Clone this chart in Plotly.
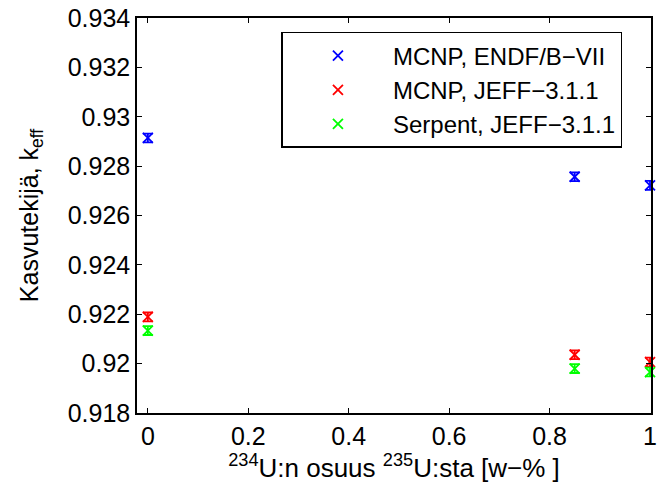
import plotly.graph_objects as go

x_vals = [0.0, 0.85, 1.0]
mcnp_endf = [0.92914, 0.92757, 0.92722]
mcnp_jeff = [0.92189, 0.92036, 0.92006]
serpent_jeff = [0.92134, 0.91980, 0.91966]
err = [0.00018, 0.00018, 0.00018]

names = ["MCNP, ENDF/B\u2212VII", "MCNP, JEFF\u22123.1.1", "Serpent, JEFF\u22123.1.1"]
colors = ["#0000ff", "#ff0000", "#00ff00"]
series = [mcnp_endf, mcnp_jeff, serpent_jeff]

y_ticks = [0.918, 0.920, 0.922, 0.924, 0.926, 0.928, 0.930, 0.932, 0.934]
y_labels = ["0.918", "0.92", "0.922", "0.924", "0.926", "0.928", "0.93", "0.932", "0.934"]
x_ticks = [0, 0.2, 0.4, 0.6, 0.8, 1.0]
x_labels = ["0", "0.2", "0.4", "0.6", "0.8", "1"]

fig = go.Figure()
for nm, c, ys in zip(names, colors, series):
    fig.add_trace(go.Scatter(
        x=x_vals, y=ys, mode="markers", name=nm,
        marker=dict(symbol="x-thin", size=10, line=dict(color=c, width=1.8), color=c),
        error_y=dict(type="data", array=err, color=c, thickness=1.8, width=5),
        cliponaxis=False,
    ))

font = "Liberation Sans, Arial, Helvetica, sans-serif"
fig.update_layout(
    width=657, height=498,
    margin=dict(l=137, r=0, t=18, b=85),
    paper_bgcolor="white", plot_bgcolor="white",
    font=dict(family=font, size=25, color="black"),
    showlegend=True,
    legend=dict(
        x=0.281, y=0.9646, xanchor="left", yanchor="top",
        bgcolor="white", bordercolor="black", borderwidth=1.5,
        font=dict(family=font, size=24, color="black"),
        itemwidth=100,
    ),
    xaxis=dict(
        range=[-0.0216, 1.002], tickmode="array", tickvals=x_ticks, ticktext=x_labels,
        ticks="inside", ticklen=5, tickcolor="black", showline=True, linecolor="black",
        linewidth=1.5, mirror="ticks", showgrid=False, zeroline=False,
        tickfont=dict(size=25), ticklabeloverflow="allow",
        title=dict(text="<sup>234</sup>U:n osuus <sup>235</sup>U:sta [w\u2212% ]",
                   font=dict(size=26), standoff=8),
    ),
    yaxis=dict(
        range=[0.918, 0.934], tickmode="array", tickvals=y_ticks, ticktext=y_labels,
        ticks="inside", ticklen=5, tickcolor="black", showline=True, linecolor="black",
        linewidth=1.5, mirror="ticks", showgrid=False, zeroline=False,
        tickfont=dict(size=25),
        title=dict(text="Kasvutekijä, k<sub>eff</sub>", font=dict(size=25), standoff=22),
    ),
)
fig.write_html("out.html")
